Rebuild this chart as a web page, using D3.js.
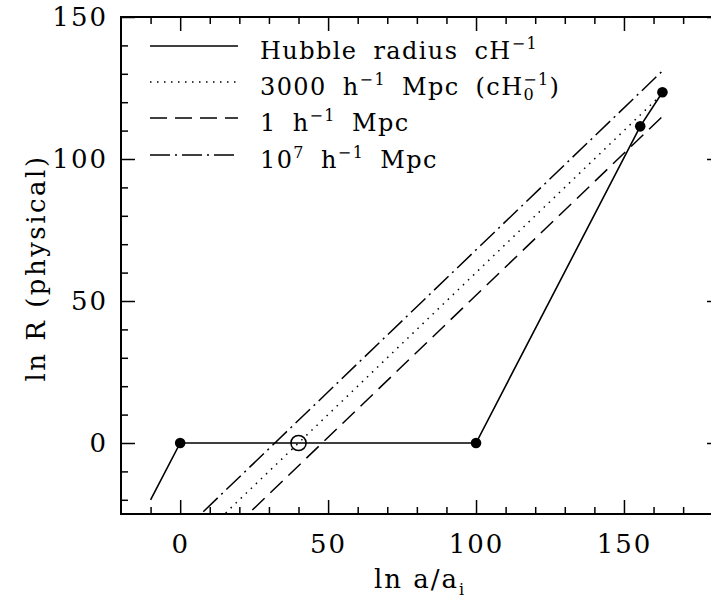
<!DOCTYPE html>
<html>
<head>
<meta charset="utf-8">
<script src="https://cdn.jsdelivr.net/npm/d3@7"></script>
<style>
  body { margin: 0; background: #fff; }
  svg { display: block; }
  text { font-family: "DejaVu Serif", serif; fill: #000; }
</style>
</head>
<body>
<div id="chart"></div>
<script>
// Hubble radius path (ln a/a_i, ln R)
const hubbleX = [-10, 0, 100, 155.5, 163];
const hubbleY = [-20, 0, 0, 111.5, 123.5];
// filled markers along the Hubble radius
const markerX = [0, 100, 155.5, 163];
const markerY = [0, 0, 111.5, 123.5];
// open marker (horizon crossing of the 3000 h^-1 Mpc scale)
const openX = [40];
const openY = [0];

// comoving scales: ln R = ln a/a_i + offset
const scaleNames = ["3000", "1", "1e7"];
const scaleOffsets = [-40, -48, -32];
const scaleRange = [0, 163];

const xMajor = [0, 50, 100, 150];
const xMinor = [-10, 10, 20, 30, 40, 60, 70, 80, 90, 110, 120, 130, 140, 160, 170, 180];
const yMajor = [0, 50, 100, 150];
const yMinor = [-20, -10, 10, 20, 30, 40, 60, 70, 80, 90, 110, 120, 130, 140];

const W = 711, H = 607;
const pLeft = 121, pRight = 721, pTop = 17, pBottom = 514;

const svg = d3.select("#chart").append("svg")
  .attr("width", W).attr("height", H);

const x = d3.scaleLinear().domain([-20, 182.8]).range([pLeft, pRight]);
const y = d3.scaleLinear().domain([-25, 150]).range([pBottom, pTop]);

svg.append("clipPath").attr("id", "plot")
  .append("rect")
  .attr("x", pLeft).attr("y", pTop)
  .attr("width", pRight - pLeft).attr("height", pBottom - pTop);

const dashes = { "3000": "1.5,5.5", "1": "17,8", "1e7": "20,5,2,5" };

// comoving scale lines
const line = d3.line().x(d => x(d[0])).y(d => y(d[1]));
const plot = svg.append("g").attr("clip-path", "url(#plot)");
scaleNames.forEach((n, i) => {
  const pts = scaleRange.map(v => [v, v + scaleOffsets[i]]);
  plot.append("path")
    .attr("d", line(pts))
    .attr("fill", "none")
    .attr("stroke", "#000")
    .attr("stroke-width", 1.5)
    .attr("stroke-dasharray", dashes[n]);
});

// Hubble radius
plot.append("path")
  .attr("d", line(hubbleX.map((v, i) => [v, hubbleY[i]])))
  .attr("fill", "none")
  .attr("stroke", "#000")
  .attr("stroke-width", 1.6);

plot.selectAll(".dot")
  .data(markerX)
  .enter().append("circle")
    .attr("cx", d => x(d))
    .attr("cy", (d, i) => y(markerY[i]))
    .attr("r", 5.3)
    .attr("fill", "#000");

plot.selectAll(".open")
  .data(openX)
  .enter().append("circle")
    .attr("cx", d => x(d))
    .attr("cy", (d, i) => y(openY[i]))
    .attr("r", 7.6)
    .attr("fill", "none")
    .attr("stroke", "#000")
    .attr("stroke-width", 1.5);

// axes: ticks on all four sides, pointing inward
function styleAxis(g) {
  g.select(".domain").remove();
  g.selectAll("line").attr("stroke", "#000").attr("stroke-width", 1.5);
}
svg.append("g").attr("transform", `translate(0,${pBottom})`)
  .call(d3.axisBottom(x).tickValues(xMinor).tickSize(-7).tickFormat(""))
  .call(styleAxis);
svg.append("g").attr("transform", `translate(0,${pBottom})`)
  .call(d3.axisBottom(x).tickValues(xMajor).tickSize(-14).tickPadding(21).tickFormat(d3.format("d")))
  .call(styleAxis)
  .selectAll("text").attr("font-size", 26).attr("letter-spacing", 2).attr("font-family", "DejaVu Serif");
svg.append("g").attr("transform", `translate(0,${pTop})`)
  .call(d3.axisTop(x).tickValues(xMinor).tickSize(-7).tickFormat(""))
  .call(styleAxis);
svg.append("g").attr("transform", `translate(0,${pTop})`)
  .call(d3.axisTop(x).tickValues(xMajor).tickSize(-14).tickFormat(""))
  .call(styleAxis);

svg.append("g").attr("transform", `translate(${pLeft},0)`)
  .call(d3.axisLeft(y).tickValues(yMinor).tickSize(-7).tickFormat(""))
  .call(styleAxis);
svg.append("g").attr("transform", `translate(${pLeft},0)`)
  .call(d3.axisLeft(y).tickValues(yMajor).tickSize(-14).tickPadding(13).tickFormat(d3.format("d")))
  .call(styleAxis)
  .selectAll("text").attr("font-size", 26).attr("letter-spacing", 2).attr("font-family", "DejaVu Serif");
svg.append("g").attr("transform", `translate(${pRight},0)`)
  .call(d3.axisRight(y).tickValues(yMinor).tickSize(-7).tickFormat(""))
  .call(styleAxis);
svg.append("g").attr("transform", `translate(${pRight},0)`)
  .call(d3.axisRight(y).tickValues(yMajor).tickSize(-14).tickFormat(""))
  .call(styleAxis);

// frame
svg.append("rect")
  .attr("x", pLeft).attr("y", pTop)
  .attr("width", pRight - pLeft).attr("height", pBottom - pTop)
  .attr("fill", "none").attr("stroke", "#000").attr("stroke-width", 2);

// axis titles
const xt = svg.append("text")
  .attr("x", 420).attr("y", 588)
  .attr("text-anchor", "middle")
  .attr("font-size", 26).attr("letter-spacing", 2);
xt.append("tspan").text("ln  a/a");
xt.append("tspan").attr("font-size", 16).attr("dy", 7).text("i");

svg.append("text")
  .attr("transform", "translate(45,268) rotate(-90)")
  .attr("text-anchor", "middle")
  .attr("font-size", 26).attr("letter-spacing", 2.5)
  .text("ln R (physical)");

// legend
const legendY = [46, 82, 118, 155];
const legendDash = [null, dashes["3000"], dashes["1"], dashes["1e7"]];
const legend = svg.append("g");
legendY.forEach((ly, i) => {
  legend.append("line")
    .attr("x1", 150).attr("x2", 238)
    .attr("y1", ly).attr("y2", ly)
    .attr("stroke", "#000").attr("stroke-width", 1.5)
    .attr("stroke-dasharray", legendDash[i]);
});
// each segment: [text, baseline offset, small?, dx]
function legendText(i, segs) {
  const t = legend.append("text")
    .attr("x", 260).attr("y", legendY[i] + 13)
    .attr("font-size", 24).attr("letter-spacing", 1.4)
    .attr("word-spacing", 7);
  let cur = 0;
  segs.forEach(s => {
    const off = s[1] || 0;
    t.append("tspan")
      .attr("dy", off - cur)
      .attr("dx", s[3] || 0)
      .attr("font-size", s[2] ? 16 : 24)
      .text(s[0]);
    cur = off;
  });
}

legendText(0, [["Hubble radius cH"], ["−1", -10, true]]);
legendText(1, [["3000 h"], ["−1", -10, true], [" Mpc (cH"], ["0", 5, true], ["−1", -10, true, -12], [")"]]);
legendText(2, [["1 h"], ["−1", -10, true], [" Mpc"]]);
legendText(3, [["10"], ["7", -10, true], [" h"], ["−1", -10, true], [" Mpc"]]);
</script>
</body>
</html>
